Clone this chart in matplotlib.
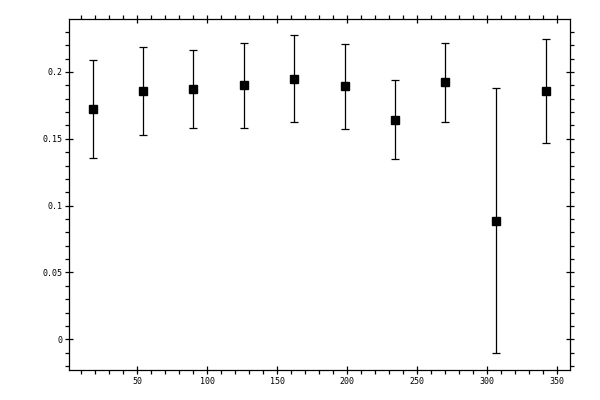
import matplotlib
matplotlib.use("Agg")
import matplotlib.pyplot as plt
from matplotlib.ticker import MultipleLocator, FuncFormatter

x = [18, 54, 90, 126, 162, 198, 234, 270, 306, 342]
y = [0.1722, 0.1856, 0.1871, 0.1901, 0.1946, 0.1893, 0.1640, 0.1923, 0.0886, 0.1856]
err_lo = [0.0364, 0.0328, 0.0291, 0.0321, 0.0321, 0.0320, 0.0291, 0.0298, 0.0990, 0.0388]
err_hi = [0.0365, 0.0328, 0.0291, 0.0313, 0.0328, 0.0314, 0.0298, 0.0291, 0.0992, 0.0388]

fig = plt.figure(figsize=(6, 4), dpi=100)
ax = fig.add_axes([0.1155, 0.075, 0.835, 0.8767])

ax.errorbar(x, y, yerr=[err_lo, err_hi], fmt='s', color='black', ms=5.2,
            elinewidth=0.9, capsize=2.6, capthick=0.9, mec='black', mfc='black')

ax.set_xlim(1.4, 359.3)
ax.set_ylim(-0.0229, 0.2393)

ax.xaxis.set_major_locator(MultipleLocator(50))
ax.xaxis.set_minor_locator(MultipleLocator(10))
ax.yaxis.set_major_locator(MultipleLocator(0.05))
ax.yaxis.set_minor_locator(MultipleLocator(0.01))
fmt = FuncFormatter(lambda v, p: '%g' % round(v, 6))
ax.xaxis.set_major_formatter(fmt)
ax.yaxis.set_major_formatter(fmt)

for s in ax.spines.values():
    s.set_linewidth(0.9)

ax.tick_params(which='major', direction='inout', length=6, width=0.9,
               top=True, right=True, labelsize=6, pad=2)
ax.tick_params(which='minor', direction='out', length=2.6, width=0.9,
               top=True, right=True)
for lab in ax.get_xticklabels() + ax.get_yticklabels():
    lab.set_family('DejaVu Sans Mono')

fig.savefig('out.png', dpi=100)
